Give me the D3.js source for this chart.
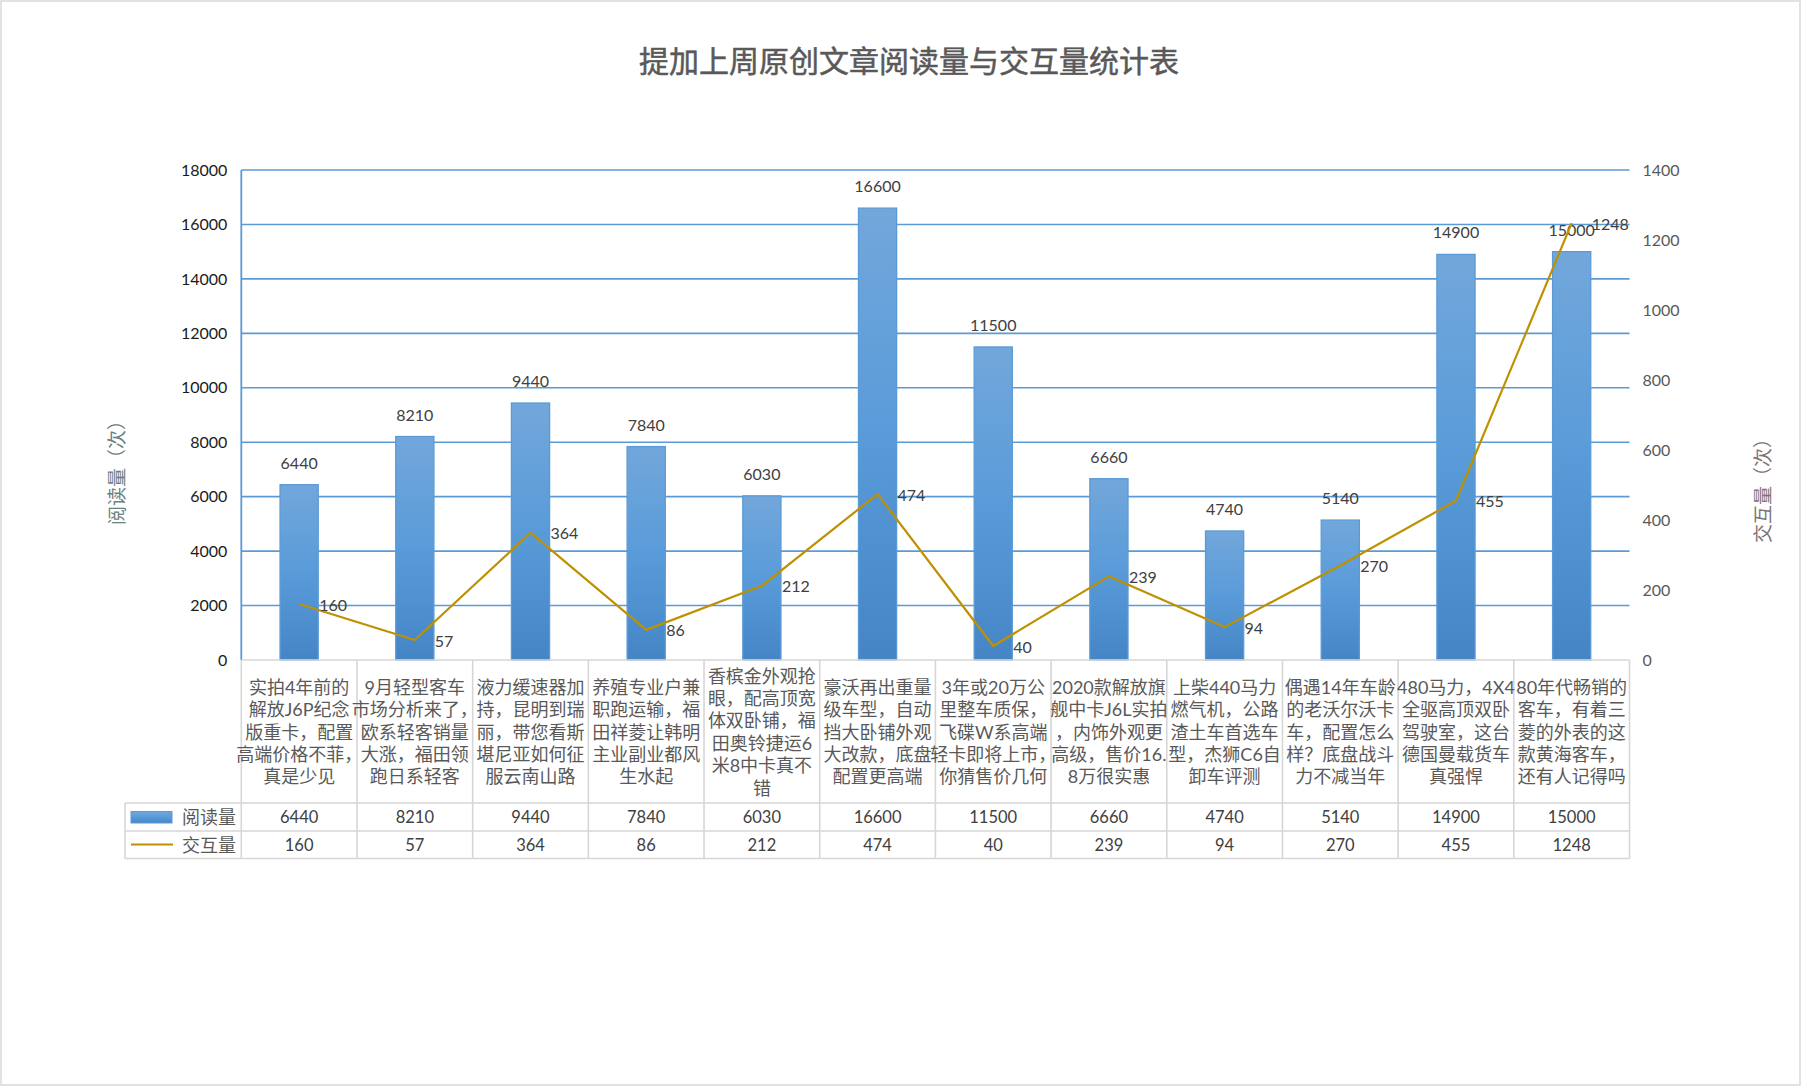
<!DOCTYPE html>
<html><head><meta charset="utf-8">
<script src="https://cdn.jsdelivr.net/npm/d3@7"></script>
<style>
html,body{margin:0;padding:0;background:#fff;}
svg text{font-family:Lato,"Noto Sans CJK SC",sans-serif;}
</style>
</head><body>
<svg id="chart" width="1802" height="1087"></svg>
<script>
const title = "提加上周原创文章阅读量与交互量统计表";
const seriesNames = ["阅读量", "交互量"];
const leftAxisTitle = "阅读量（次）";
const rightAxisTitle = "交互量（次）";
const categories = [
  ["实拍4年前的","解放J6P纪念","版重卡，配置","高端价格不菲，","真是少见"],
  ["9月轻型客车","市场分析来了，","欧系轻客销量","大涨，福田领","跑日系轻客"],
  ["液力缓速器加","持，昆明到瑞","丽，带您看斯","堪尼亚如何征","服云南山路"],
  ["养殖专业户兼","职跑运输，福","田祥菱让韩明","主业副业都风","生水起"],
  ["香槟金外观抢","眼，配高顶宽","体双卧铺，福","田奥铃捷运6","米8中卡真不","错"],
  ["豪沃再出重量","级车型，自动","挡大卧铺外观","大改款，底盘","配置更高端"],
  ["3年或20万公","里整车质保，","飞碟W系高端","轻卡即将上市，","你猜售价几何"],
  ["2020款解放旗","舰中卡J6L实拍","，内饰外观更","高级，售价16.","8万很实惠"],
  ["上柴440马力","燃气机，公路","渣土车首选车","型，杰狮C6自","卸车评测"],
  ["偶遇14年车龄","的老沃尔沃卡","车，配置怎么","样？底盘战斗","力不减当年"],
  ["480马力，4X4","全驱高顶双卧","驾驶室，这台","德国曼载货车","真强悍"],
  ["80年代畅销的","客车，有着三","菱的外表的这","款黄海客车，","还有人记得吗"]
];
const readValues = [6440, 8210, 9440, 7840, 6030, 16600, 11500, 6660, 4740, 5140, 14900, 15000];
const interValues = [160, 57, 364, 86, 212, 474, 40, 239, 94, 270, 455, 1248];
const leftTicks = [0, 2000, 4000, 6000, 8000, 10000, 12000, 14000, 16000, 18000];
const rightTicks = [0, 200, 400, 600, 800, 1000, 1200, 1400];

const svg = d3.select("#chart");
const W = 1802, H = 1087;
const plotL = 241.3, plotR = 1629.5, plotT = 170, plotB = 660;
const labelRowB = 803, row1B = 831, row2B = 858.5, tableL = 125;
const blue = "#5b9bd5", gold = "#bf9000", gridGray = "#d6d6d6";

svg.append("rect").attr("x",1).attr("y",1).attr("width",W-3).attr("height",H-3)
  .attr("fill","#fff").attr("stroke","#d9d9d9").attr("stroke-width",1.5);

const defs = svg.append("defs");
const grad = defs.append("linearGradient").attr("id","barGrad").attr("x1",0).attr("y1",0).attr("x2",0).attr("y2",1);
grad.append("stop").attr("offset","0%").attr("stop-color","#72a7db");
grad.append("stop").attr("offset","50%").attr("stop-color","#599bd9");
grad.append("stop").attr("offset","100%").attr("stop-color","#4585c6");

const x = d3.scaleBand().domain(d3.range(categories.length)).range([plotL, plotR]).padding(0);
const yL = d3.scaleLinear().domain([0, 18000]).range([plotB, plotT]);
const yR = d3.scaleLinear().domain([0, 1400]).range([plotB, plotT]);

// title
svg.append("text").attr("x", 909).attr("y", 72).attr("text-anchor","middle")
  .attr("font-size", 30).attr("font-weight", 400).attr("fill","#595959")
  .attr("stroke","#595959").attr("stroke-width",0.5)
  .style("font-family",'"Noto Sans CJK SC",sans-serif').text(title);

// gridlines
svg.append("g").selectAll("line").data(leftTicks.filter(d=>d>0)).join("line")
  .attr("x1", plotL).attr("x2", plotR).attr("y1", d=>yL(d)).attr("y2", d=>yL(d))
  .attr("stroke", blue).attr("stroke-width", 1.6);

// left axis
const gL = svg.append("g").attr("transform",`translate(${plotL},0)`)
  .call(d3.axisLeft(yL).tickValues(leftTicks).tickSize(0).tickPadding(14).tickFormat(d3.format("d")));
gL.select(".domain").remove();
gL.selectAll("text").attr("font-size",16).attr("fill","#1a1a1a").style("font-family","Lato,sans-serif");
svg.append("line").attr("x1",plotL).attr("x2",plotL).attr("y1",plotT).attr("y2",plotB)
  .attr("stroke",blue).attr("stroke-width",1.8);

// right axis
const gR = svg.append("g").attr("transform",`translate(${plotR},0)`)
  .call(d3.axisRight(yR).tickValues(rightTicks).tickSize(0).tickPadding(13).tickFormat(d3.format("d")));
gR.select(".domain").remove();
gR.selectAll("text").attr("font-size",16).attr("fill","#595959").style("font-family","Lato,sans-serif");

// axis titles
svg.append("text").attr("transform","translate(115,468) rotate(-90)").attr("text-anchor","middle")
  .attr("dominant-baseline","central").attr("font-size",19).attr("fill","#6a7f7f")
  .style("font-family",'"Noto Sans CJK SC",sans-serif').text(leftAxisTitle);
svg.append("text").attr("transform","translate(1761,486) rotate(-90)").attr("text-anchor","middle")
  .attr("dominant-baseline","central").attr("font-size",19).attr("fill","#7f7373")
  .style("font-family",'"Noto Sans CJK SC",sans-serif').text(rightAxisTitle);

// bars
const bw = x.bandwidth() * 0.33;
svg.append("g").selectAll("rect").data(readValues).join("rect")
  .attr("x", (d,i)=> x(i) + x.bandwidth()/2 - bw/2)
  .attr("y", d=> yL(d))
  .attr("width", bw)
  .attr("height", d=> yL(0) - yL(d))
  .attr("fill","url(#barGrad)").attr("stroke", blue).attr("stroke-width",1.3);

// bar labels
svg.append("g").selectAll("text").data(readValues).join("text")
  .attr("x",(d,i)=> x(i) + x.bandwidth()/2).attr("y", d=> yL(d) - 16)
  .attr("text-anchor","middle").attr("font-size",16).attr("fill","#404040").text(d=>d);

// line
const line = d3.line().x((d,i)=> x(i)+x.bandwidth()/2).y(d=> yR(d));
svg.append("path").datum(interValues).attr("d", line).attr("fill","none")
  .attr("stroke", gold).attr("stroke-width", 2.2).attr("stroke-linejoin","round");

// line labels
svg.append("g").selectAll("text").data(interValues).join("text")
  .attr("x",(d,i)=> x(i) + x.bandwidth()/2 + 20)
  .attr("y", d=> yR(d))
  .attr("dominant-baseline","central").attr("font-size",16).attr("fill","#404040").text(d=>d);

// table grid
const tg = svg.append("g").attr("stroke", gridGray).attr("stroke-width",1.6);
tg.append("line").attr("x1",plotL).attr("x2",plotR).attr("y1",plotB).attr("y2",plotB);
[labelRowB,row1B,row2B].forEach(yy=>{
  tg.append("line").attr("x1",tableL).attr("x2",plotR).attr("y1",yy).attr("y2",yy);
});
d3.range(categories.length+1).forEach(i=>{
  const xx = i < categories.length ? x(i) : plotR;
  tg.append("line").attr("x1",xx).attr("x2",xx).attr("y1",plotB).attr("y2",row2B);
});
tg.append("line").attr("x1",tableL).attr("x2",tableL).attr("y1",labelRowB).attr("y2",row2B);

// category labels
const lh = 22.4, midY = (plotB + labelRowB)/2;
const cg = svg.append("g").selectAll("text").data(categories).join("text")
  .attr("text-anchor","middle").attr("font-size",18).attr("fill","#595959");
cg.each(function(lines,i){
  const t = d3.select(this);
  lines.forEach((s,k)=>{
    t.append("tspan").attr("x", x(i)+x.bandwidth()/2)
      .attr("y", midY + (k - (lines.length-1)/2)*lh)
      .attr("dominant-baseline","central").text(s);
  });
});

// table values
const r1 = (labelRowB+row1B)/2, r2 = (row1B+row2B)/2;
svg.append("g").selectAll("text").data(readValues).join("text")
  .attr("x",(d,i)=> x(i)+x.bandwidth()/2).attr("y", r1).attr("dominant-baseline","central")
  .attr("text-anchor","middle").attr("font-size",16.5).attr("fill","#404040").text(d=>d);
svg.append("g").selectAll("text").data(interValues).join("text")
  .attr("x",(d,i)=> x(i)+x.bandwidth()/2).attr("y", r2).attr("dominant-baseline","central")
  .attr("text-anchor","middle").attr("font-size",16.5).attr("fill","#404040").text(d=>d);

// legend keys in row headers
svg.append("rect").attr("x",131).attr("y",811.5).attr("width",41).attr("height",11.5)
  .attr("fill","url(#barGrad)").attr("stroke",blue).attr("stroke-width",1);
svg.append("line").attr("x1",131).attr("x2",173).attr("y1",844.5).attr("y2",844.5)
  .attr("stroke",gold).attr("stroke-width",2.2);
svg.append("text").attr("x",182).attr("y",r1).attr("dominant-baseline","central")
  .attr("font-size",18).attr("fill","#595959").text(seriesNames[0]);
svg.append("text").attr("x",182).attr("y",r2).attr("dominant-baseline","central")
  .attr("font-size",18).attr("fill","#595959").text(seriesNames[1]);
</script>
</body></html>
